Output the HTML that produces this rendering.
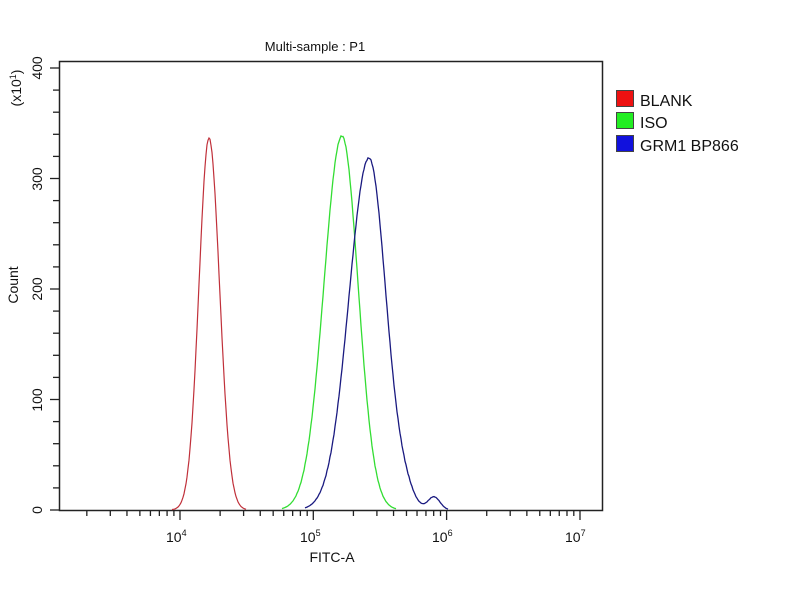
<!DOCTYPE html>
<html><head><style>body{margin:0;background:#fff}svg{display:block;font-family:"Liberation Sans",Arial,sans-serif}</style></head>
<body>
<svg id="s" width="800" height="600" xmlns="http://www.w3.org/2000/svg">
<rect width="800" height="600" fill="#fff"/>
<text x="315" y="51" font-size="13" text-anchor="middle" fill="#111">Multi-sample : P1</text>
<rect x="59.5" y="61.5" width="543" height="449" fill="none" stroke="#222" stroke-width="1.5"/>
<g id="ticks" stroke="#222" stroke-width="1.3"></g>
<g font-size="14" fill="#111">
<text transform="translate(42,510) rotate(-90)" text-anchor="middle">0</text>
<text transform="translate(42,400) rotate(-90)" text-anchor="middle">100</text>
<text transform="translate(42,289) rotate(-90)" text-anchor="middle">200</text>
<text transform="translate(42,179) rotate(-90)" text-anchor="middle">300</text>
<text transform="translate(42,68) rotate(-90)" text-anchor="middle">400</text>
<text transform="translate(21,88) rotate(-90)" text-anchor="middle">(x10<tspan font-size="9" dy="-5">1</tspan><tspan dy="5">)</tspan></text>
<text transform="translate(18,285) rotate(-90)" text-anchor="middle">Count</text>
<text x="166" y="542">10<tspan font-size="9" dy="-6">4</tspan></text>
<text x="300" y="542">10<tspan font-size="9" dy="-6">5</tspan></text>
<text x="432" y="542">10<tspan font-size="9" dy="-6">6</tspan></text>
<text x="565" y="542">10<tspan font-size="9" dy="-6">7</tspan></text>
<text x="332" y="562" text-anchor="middle">FITC-A</text>
</g>
<path id="red" fill="none" stroke="#c0303a" stroke-width="1.2"/>
<path id="green" fill="none" stroke="#33dd33" stroke-width="1.3"/>
<path id="blue" fill="none" stroke="#1a1a80" stroke-width="1.3"/>
<g stroke="#444" stroke-width="1">
<rect x="616.5" y="90.5" width="17" height="16" fill="#ee1111"/>
<rect x="616.5" y="112.5" width="17" height="16" fill="#22ee22"/>
<rect x="616.5" y="135.5" width="17" height="16" fill="#1111dd"/>
</g>
<g font-size="16" fill="#111">
<text x="640" y="106">BLANK</text>
<text x="640" y="128">ISO</text>
<text x="640" y="151">GRM1 BP866</text>
</g>
<script>
var NS='http://www.w3.org/2000/svg',t=document.getElementById('ticks');
function ln(x1,y1,x2,y2){var e=document.createElementNS(NS,'line');e.setAttribute('x1',x1);e.setAttribute('y1',y1);e.setAttribute('x2',x2);e.setAttribute('y2',y2);t.appendChild(e);}
for(var y=0;y<=400;y+=20){var py=510-y*1.105;var L=(y%100==0)?9:6;ln(59-L,py,59,py);}
for(var d=3;d<7;d++){for(var m=1;m<10;m++){var x=180+(d-4+Math.log(m)/Math.LN10)*133.3;if(x<60||x>602)continue;var L=m==1?10:6;ln(x,510,x,510+L);}}
ln(580,510,580,520);
function g(x,c,s,a){return a*Math.exp(-0.5*Math.pow((x-c)/s,2));}
function P(id,f,x0,x1){var d='';for(var x=x0;x<=x1;x+=1){var v=f(x);var n=Math.sin(x*2.3)*0.6*Math.min(1,v/40);d+=(d?'L':'M')+x+' '+(510-v+n).toFixed(1);}document.getElementById(id).setAttribute('d',d);}
P('red',function(x){var s=x<209?10:10.5;return g(x,209,s,372);},172,246);
P('green',function(x){var s=x<342?18:16;return g(x,342,s,374);},282,396);
P('blue',function(x){var s=x<369?20:17;return g(x,369,s,352)+g(x,405,9,12)+g(x,434,6,13);},305,448);
</script>
</svg>
</body></html>
